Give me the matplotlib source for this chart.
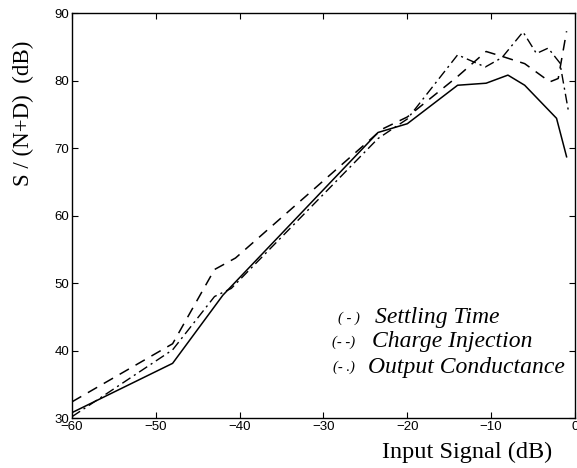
import matplotlib
matplotlib.use("Agg")
import matplotlib.pyplot as plt

# Settling Time (solid)
settle_x = [-60, -48, -42, -23.5, -20, -14, -10.6, -8, -6, -2.2, -1]
settle_y = [30.8, 38.1, 48.2, 72.3, 73.6, 79.3, 79.6, 80.8, 79.3, 74.4, 68.7]

# Charge Injection (dashed)
charge_x = [-60, -48, -43, -40.5, -23, -20, -14, -10.6, -8.5, -6, -3, -2, -1]
charge_y = [32.4, 41.0, 52.0, 53.7, 72.8, 74.6, 80.6, 84.3, 83.5, 82.5, 79.8, 80.3, 87.3]

# Output Conductance (dash-dot)
output_x = [-60, -48, -43, -41, -23.5, -20, -14, -10.7, -8.7, -6.2, -4.6, -3.2, -1.8, -0.8]
output_y = [30.2, 40.1, 48.0, 49.2, 71.4, 74.3, 83.8, 82.0, 83.4, 87.2, 84.0, 84.8, 82.6, 75.6]

x_ticks = [-60, -50, -40, -30, -20, -10, 0]
y_ticks = [30, 40, 50, 60, 70, 80, 90]

fig = plt.figure(figsize=(5.77, 4.68), dpi=100)
ax = fig.add_axes([0.1248, 0.1068, 0.8717, 0.8654])

ax.plot(settle_x, settle_y, color="black", lw=1.1, linestyle="-")
ax.plot(charge_x, charge_y, color="black", lw=1.1, linestyle=(0, (7, 5)))
ax.plot(output_x, output_y, color="black", lw=1.0, linestyle=(0, (7, 3, 1.5, 3)))

ax.set_xlim(-60, 0)
ax.set_ylim(30, 90)
ax.set_xticks(x_ticks)
ax.set_yticks(y_ticks)
ax.set_xticklabels([f"\u2212{abs(t)}" if t < 0 else str(t) for t in x_ticks])
ax.tick_params(direction="in", top=True, right=True, length=4, width=0.8,
               labelsize=9.5, pad=2)
for lab in ax.get_xticklabels() + ax.get_yticklabels():
    lab.set_family("Liberation Sans")
for sp in ax.spines.values():
    sp.set_linewidth(1.0)

fig.text(467 / 577, 1 - 452 / 468, "Input Signal (dB)", family="Liberation Serif",
         fontsize=17.5, ha="center", va="center")
fig.text(23 / 577, 1 - 113 / 468, "S / (N+D)  (dB)", family="Liberation Serif",
         fontsize=16.5, ha="center", va="center", rotation=90)

# legend as free text
leg = [("( - )", "Settling Time", 338, 375, 318),
       ("(- -)", "Charge Injection", 332, 372, 342),
       ("(- .)", "Output Conductance", 333, 368, 367)]
for mark, name, mx, nx, py in leg:
    fig.text(mx / 577, 1 - py / 468, mark, family="Liberation Serif", style="italic",
             fontsize=10.5, ha="left", va="center")
    fig.text(nx / 577, 1 - py / 468, name, family="Liberation Serif",
             style="italic", fontsize=17, ha="left", va="center")

fig.savefig("out.png", dpi=100)
